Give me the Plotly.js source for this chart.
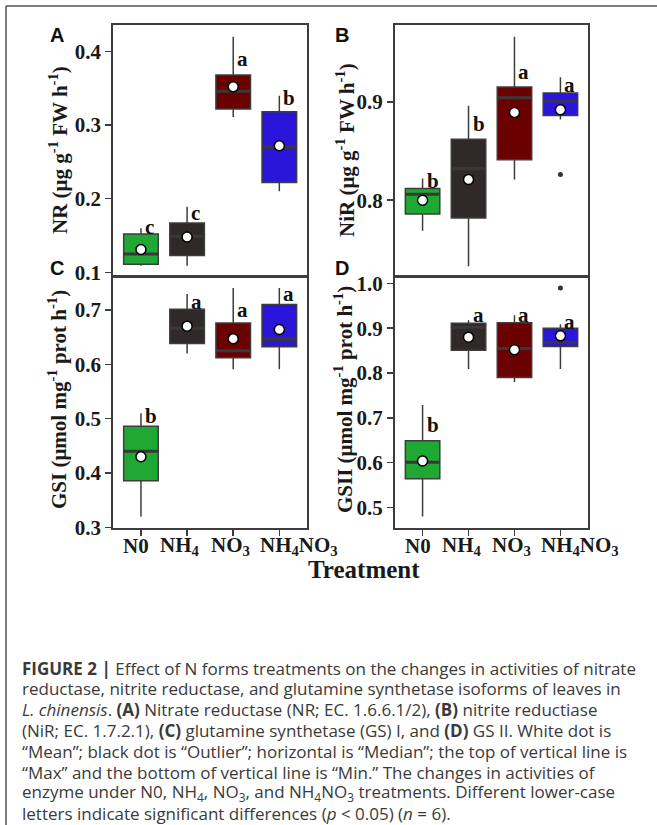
<!DOCTYPE html>
<html>
<head>
<meta charset="utf-8">
<script src="https://cdn.plot.ly/plotly-3.0.1.min.js"></script>
<style>html,body{margin:0;padding:0;background:#fff;}#chart{width:657px;height:825px;}</style>
</head>
<body>
<div id="chart"></div>
<script>
// ---------- data ----------
const categories = ['N0', 'NH4', 'NO3', 'NH4NO3'];
const tickLabels = ['N0', 'NH<sub>4</sub>', 'NO<sub>3</sub>', 'NH<sub>4</sub>NO<sub>3</sub>'];

// Panel A: NR
const nrMin    = [0.109, 0.109, 0.311, 0.210];
const nrQ1     = [0.111, 0.123, 0.322, 0.222];
const nrMedian = [0.125, 0.149, 0.346, 0.270];
const nrQ3     = [0.152, 0.167, 0.368, 0.318];
const nrMax    = [0.160, 0.189, 0.420, 0.340];
const nrMean   = [0.131, 0.148, 0.352, 0.272];
const nrOutX   = [];
const nrOutY   = [];
const nrLetters = ['c', 'c', 'a', 'b'];
const nrLetterY = [0.162, 0.181, 0.390, 0.337];

// Panel B: NiR
const nirMin    = [0.769, 0.733, 0.821, 0.882];
const nirQ1     = [0.786, 0.782, 0.841, 0.886];
const nirMedian = [0.806, 0.832, 0.904, 0.901];
const nirQ3     = [0.812, 0.862, 0.915, 0.909];
const nirMax    = [0.822, 0.896, 0.966, 0.925];
const nirMean   = [0.800, 0.821, 0.889, 0.892];
const nirOutX   = ['NH4NO3'];
const nirOutY   = [0.826];
const nirLetters = ['b', 'b', 'a', 'a'];
const nirLetterY = [0.820, 0.877, 0.930, 0.917];

// Panel C: GSI
const gsiMin    = [0.320, 0.620, 0.591, 0.591];
const gsiQ1     = [0.386, 0.638, 0.612, 0.632];
const gsiMedian = [0.440, 0.666, 0.625, 0.646];
const gsiQ3     = [0.486, 0.701, 0.676, 0.710];
const gsiMax    = [0.510, 0.729, 0.740, 0.740];
const gsiMean   = [0.430, 0.670, 0.647, 0.664];
const gsiOutX   = [];
const gsiOutY   = [];
const gsiLetters = ['b', 'a', 'a', 'a'];
const gsiLetterY = [0.504, 0.714, 0.700, 0.729];

// Panel D: GSII
const gsiiMin    = [0.480, 0.809, 0.780, 0.809];
const gsiiQ1     = [0.564, 0.851, 0.790, 0.859];
const gsiiMedian = [0.601, 0.902, 0.855, 0.868];
const gsiiQ3     = [0.649, 0.911, 0.912, 0.900];
const gsiiMax    = [0.729, 0.918, 0.929, 0.909];
const gsiiMean   = [0.604, 0.880, 0.852, 0.883];
const gsiiOutX   = ['NH4NO3'];
const gsiiOutY   = [0.990];
const gsiiLetters = ['b', 'a', 'a', 'a'];
const gsiiLetterY = [0.684, 0.929, 0.929, 0.914];

const captionLines = [
  '<b>FIGURE 2 |</b> Effect of N forms treatments on the changes in activities of nitrate',
  'reductase, nitrite reductase, and glutamine synthetase isoforms of leaves in',
  '<i>L. chinensis</i>. <b>(A)</b> Nitrate reductase (NR; EC. 1.6.6.1/2), <b>(B)</b> nitrite reductiase',
  '(NiR; EC. 1.7.2.1), <b>(C)</b> glutamine synthetase (GS) I, and <b>(D)</b> GS II. White dot is',
  '“Mean”; black dot is “Outlier”; horizontal is “Median”; the top of vertical line is',
  '“Max” and the bottom of vertical line is “Min.” The changes in activities of',
  'enzyme under N0, NH<sub>4</sub>, NO<sub>3</sub>, and NH<sub>4</sub>NO<sub>3</sub> treatments. Different lower-case',
  'letters indicate significant differences (<i>p</i> &lt; 0.05) (<i>n</i> = 6).'
];

// ---------- style ----------
const fills = ['#1FA834', '#302929', '#6B0000', '#2A16DA'];
const edge = '#3d3d3d';
const W = 657, H = 825;
const px = v => v / W;
const py = v => 1 - v / H;
const serif = 'Liberation Serif, Times New Roman, serif';
const sans = 'Liberation Sans, Arial, sans-serif';
const labelShift = [-5, -7, -3, 20];   // horizontal nudges of the x tick labels (px)

const panels = [
  {xa: 'x',  ya: 'y',  min: nrMin, q1: nrQ1, med: nrMedian, q3: nrQ3, max: nrMax, mean: nrMean, ox: nrOutX, oy: nrOutY, letters: nrLetters, ly: nrLetterY, labels: false},
  {xa: 'x2', ya: 'y2', min: nirMin, q1: nirQ1, med: nirMedian, q3: nirQ3, max: nirMax, mean: nirMean, ox: nirOutX, oy: nirOutY, letters: nirLetters, ly: nirLetterY, labels: false},
  {xa: 'x3', ya: 'y3', min: gsiMin, q1: gsiQ1, med: gsiMedian, q3: gsiQ3, max: gsiMax, mean: gsiMean, ox: gsiOutX, oy: gsiOutY, letters: gsiLetters, ly: gsiLetterY, labels: true},
  {xa: 'x4', ya: 'y4', min: gsiiMin, q1: gsiiQ1, med: gsiiMedian, q3: gsiiQ3, max: gsiiMax, mean: gsiiMean, ox: gsiiOutX, oy: gsiiOutY, letters: gsiiLetters, ly: gsiiLetterY, labels: true}
];

const tickFont = {family: serif, size: 21, color: '#1a1a1a', weight: 'bold'};
const traces = [];
const annotations = [];
panels.forEach(p => {
  categories.forEach((c, i) => {
    traces.push({
      type: 'box', x: [c], q1: [p.q1[i]], median: [p.med[i]], q3: [p.q3[i]],
      lowerfence: [p.min[i]], upperfence: [p.max[i]],
      fillcolor: fills[i], line: {color: edge, width: 1.5},
      whiskerwidth: 0, width: 0.75, boxpoints: false,
      xaxis: p.xa, yaxis: p.ya, showlegend: false, hoverinfo: 'skip'
    });
    // thicker median bar
    traces.push({
      type: 'box', x: [c], q1: [p.med[i]], median: [p.med[i]], q3: [p.med[i]],
      lowerfence: [p.med[i]], upperfence: [p.med[i]],
      fillcolor: 'rgba(0,0,0,0)', line: {color: '#383838', width: 3},
      whiskerwidth: 0, width: 0.75, boxpoints: false,
      xaxis: p.xa, yaxis: p.ya, showlegend: false, hoverinfo: 'skip'
    });
    annotations.push({
      xref: p.xa, yref: p.ya, x: c, y: p.ly[i], text: '<b>' + p.letters[i] + '</b>',
      showarrow: false, xanchor: 'left', yanchor: 'middle', xshift: 2,
      font: {family: serif, size: 21, color: '#111'}
    });
    if (p.labels) {
      annotations.push({
        xref: p.xa, yref: 'paper', x: c, y: py(546), text: '<b>' + tickLabels[i] + '</b>',
        showarrow: false, xanchor: 'center', yanchor: 'middle', xshift: labelShift[i],
        font: {family: serif, size: 21, color: '#1a1a1a'}
      });
    }
  });
  if (p.ox.length) {
    traces.push({
      type: 'scatter', mode: 'markers', x: p.ox, y: p.oy,
      marker: {color: '#333', size: 5}, xaxis: p.xa, yaxis: p.ya,
      showlegend: false, hoverinfo: 'skip'
    });
  }
  traces.push({
    type: 'scatter', mode: 'markers', x: categories, y: p.mean,
    marker: {color: '#fff', size: 10, line: {color: '#000', width: 1.5}},
    xaxis: p.xa, yaxis: p.ya, showlegend: false, hoverinfo: 'skip'
  });
});

function xAxis(domain, anchor, ticks) {
  return {
    domain: domain, anchor: anchor, type: 'category', categoryorder: 'array', categoryarray: categories,
    range: [-0.6, 3.6], showgrid: false, zeroline: false,
    showline: true, mirror: true, linecolor: edge, linewidth: 2,
    showticklabels: false, ticks: ticks ? 'outside' : '', ticklen: 6, tickwidth: 1.5, tickcolor: edge,
    tickvals: categories
  };
}
function yAxis(domain, anchor, range) {
  return {
    domain: domain, anchor: anchor, range: range, dtick: 0.1, tick0: 0, tickformat: '.1f',
    showgrid: false, zeroline: false, showline: true, mirror: true, linecolor: edge, linewidth: 2,
    ticks: 'outside', ticklen: 6, tickwidth: 1.5, tickcolor: edge, tickfont: tickFont
  };
}

const xL = [px(113.3), px(307)], xR = [px(395), px(588)];
const yT = [py(276), py(25)], yB = [py(527.7), py(276.7)];

function paperText(x, y, text, font, extra) {
  return Object.assign({xref: 'paper', yref: 'paper', x: px(x), y: py(y), text: text, font: font,
    showarrow: false, xanchor: 'center', yanchor: 'middle'}, extra || {});
}
const titleFont = {family: serif, size: 21, color: '#1a1a1a'};
const letterFont = {family: sans, size: 20, color: '#111'};
annotations.push(
  paperText(58, 150, '<b>NR (μg g<sup>-1</sup> FW h<sup>-1</sup>)</b>', titleFont, {textangle: -90}),
  paperText(345, 150, '<b>NiR (μg g<sup>-1</sup> FW h<sup>-1</sup>)</b>', titleFont, {textangle: -90}),
  paperText(57, 400, '<b>GSI (μmol mg<sup>-1</sup> prot h<sup>-1</sup>)</b>', titleFont, {textangle: -90}),
  paperText(343, 400, '<b>GSII (μmol mg<sup>-1</sup> prot h<sup>-1</sup>)</b>', titleFont, {textangle: -90}),
  paperText(364, 569, '<b>Treatment</b>', {family: serif, size: 25, color: '#1a1a1a'}),
  paperText(57, 35, '<b>A</b>', letterFont),
  paperText(342, 35, '<b>B</b>', letterFont),
  paperText(57, 268, '<b>C</b>', letterFont),
  paperText(342, 268, '<b>D</b>', letterFont)
);

const capFont = {family: 'Open Sans, Liberation Sans, sans-serif', size: 17, color: '#3a3a3a'};
captionLines.forEach((t, i) => {
  annotations.push(paperText(20, 668 + i * 20.8, t, capFont, {xanchor: 'left', align: 'left'}));
});

const layout = {
  width: W, height: H, margin: {l: 0, r: 0, t: 0, b: 0},
  paper_bgcolor: '#fff', plot_bgcolor: '#fff', showlegend: false, boxmode: 'overlay',
  xaxis: xAxis(xL, 'y', false),
  yaxis: yAxis(yT, 'x', [0.095, 0.436]),
  xaxis2: xAxis(xR, 'y2', false),
  yaxis2: yAxis(yT, 'x2', [0.723, 0.978]),
  xaxis3: xAxis(xL, 'y3', true),
  yaxis3: yAxis(yB, 'x3', [0.2995, 0.761]),
  xaxis4: xAxis(xR, 'y4', true),
  yaxis4: yAxis(yB, 'x4', [0.455, 1.015]),
  annotations: annotations,
  shapes: [
    {type: 'line', xref: 'paper', yref: 'paper', x0: px(6), x1: 1, y0: py(6), y1: py(6), line: {color: '#555', width: 1.5}},
    {type: 'line', xref: 'paper', yref: 'paper', x0: px(6), x1: px(6), y0: py(6), y1: 0, line: {color: '#555', width: 1.5}}
  ]
};

Plotly.newPlot('chart', traces, layout, {staticPlot: true, displayModeBar: false});
</script>
</body>
</html>
